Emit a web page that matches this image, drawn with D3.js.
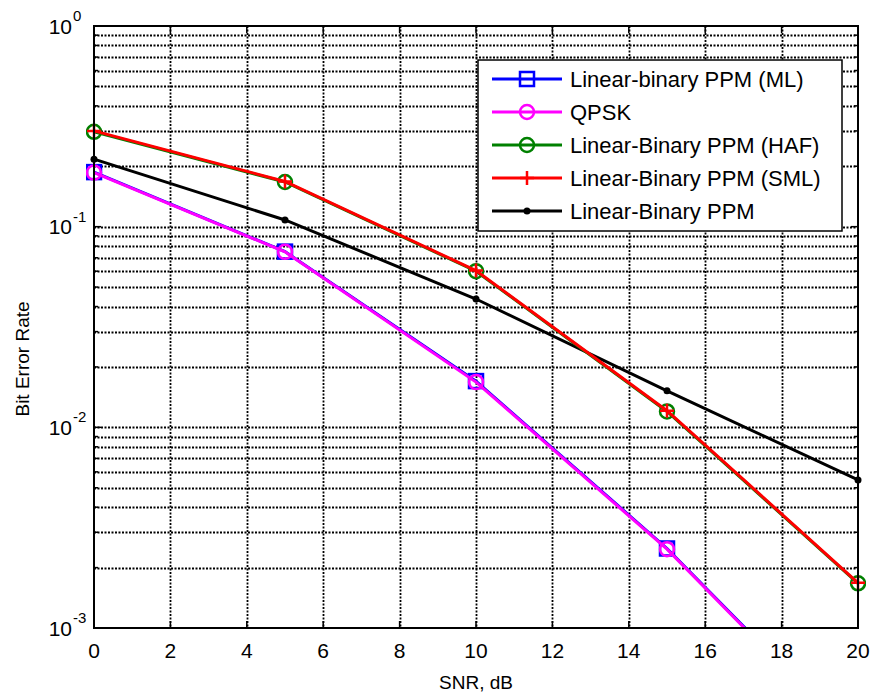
<!DOCTYPE html>
<html>
<head>
<meta charset="utf-8">
<script src="https://cdn.jsdelivr.net/npm/d3@7"></script>
<style>
  body { margin: 0; background: #fff; }
  text { font-family: "Liberation Sans", Arial, sans-serif; fill: #000; }
</style>
</head>
<body>
<div id="chart"></div>
<script>
// SNR points (dB)
const snr = [0, 5, 10, 15, 20];

// BER values
const berML = [0.187, 0.0751, 0.0170, 0.00249, 0.000268];
const berQPSK = [0.186, 0.0749, 0.0168, 0.00247, 0.000265];
const berHAF = [0.297, 0.167, 0.0600, 0.0120, 0.00167];
const berSML = [0.300, 0.168, 0.0604, 0.0121, 0.00168];
const berLB = [0.217, 0.108, 0.0436, 0.0152, 0.00547];

const seriesNames = [
  "Linear-binary PPM (ML)",
  "QPSK",
  "Linear-Binary PPM (HAF)",
  "Linear-Binary PPM (SML)",
  "Linear-Binary PPM"
];
const seriesColors = ["#0000ff", "#ff00ff", "#008000", "#ff0000", "#000000"];
const seriesMarkers = ["square", "circle", "circle", "plus", "dot"];
const seriesValues = [berML, berQPSK, berHAF, berSML, berLB];

const xTicks = [0, 2, 4, 6, 8, 10, 12, 14, 16, 18, 20];
const yDecades = [-3, -2, -1, 0];

const width = 874;
const height = 692;
const margin = { top: 26, right: 16, bottom: 64, left: 94 };
const plotW = width - margin.left - margin.right;
const plotH = height - margin.top - margin.bottom;

const svg = d3
  .select("#chart")
  .append("svg")
  .attr("width", width)
  .attr("height", height);

const g = svg
  .append("g")
  .attr("transform", `translate(${margin.left},${margin.top})`);

const x = d3.scaleLinear().domain([0, 20]).range([0, plotW]);
const y = d3.scaleLog().domain([1e-3, 1]).range([plotH, 0]);

// minor log ticks 2..9 per decade
const yMinor = [];
yDecades.slice(0, -1).forEach((d) => {
  for (let k = 2; k <= 9; k++) yMinor.push(k * Math.pow(10, d));
});
const yMajor = yDecades.map((d) => Math.pow(10, d));

// dotted grid
const grid = g.append("g").attr("class", "grid");
grid
  .selectAll("line.gx")
  .data(xTicks.slice(1, -1))
  .enter()
  .append("line")
  .attr("x1", (d) => Math.round(x(d)) + 0.5)
  .attr("x2", (d) => Math.round(x(d)) + 0.5)
  .attr("y1", 0)
  .attr("y2", plotH);
grid
  .selectAll("line.gy")
  .data(yMinor.concat(yMajor.slice(1, -1)))
  .enter()
  .append("line")
  .attr("x1", 0)
  .attr("x2", plotW)
  .attr("y1", (d) => Math.round(y(d)) + 0.5)
  .attr("y2", (d) => Math.round(y(d)) + 0.5);
grid
  .selectAll("line")
  .attr("stroke", "#000")
  .attr("stroke-width", 1.8)
  .attr("stroke-dasharray", "2,1.5");

// ticks on all four sides, pointing inward
const ticks = g.append("g").attr("class", "ticks").attr("stroke", "#000").attr("stroke-width", 1.5);
xTicks.forEach((t) => {
  ticks.append("line").attr("x1", x(t)).attr("x2", x(t)).attr("y1", plotH).attr("y2", plotH - 7);
  ticks.append("line").attr("x1", x(t)).attr("x2", x(t)).attr("y1", 0).attr("y2", 7);
});
yMajor.forEach((t) => {
  ticks.append("line").attr("x1", 0).attr("x2", 7).attr("y1", y(t)).attr("y2", y(t));
  ticks.append("line").attr("x1", plotW).attr("x2", plotW - 7).attr("y1", y(t)).attr("y2", y(t));
});
yMinor.forEach((t) => {
  ticks.append("line").attr("x1", 0).attr("x2", 4).attr("y1", y(t)).attr("y2", y(t));
  ticks.append("line").attr("x1", plotW).attr("x2", plotW - 4).attr("y1", y(t)).attr("y2", y(t));
});

// clip the data to the axes
svg
  .append("defs")
  .append("clipPath")
  .attr("id", "plot-clip")
  .append("rect")
  .attr("x", -8)
  .attr("y", -8)
  .attr("width", plotW + 16)
  .attr("height", plotH + 8);

const line = d3
  .line()
  .x((d) => x(d[0]))
  .y((d) => y(d[1]));

const drawMarker = (sel, type, color) => {
  if (type === "square") {
    sel.append("rect").attr("x", -7).attr("y", -7).attr("width", 14).attr("height", 14)
      .attr("fill", "none").attr("stroke", color).attr("stroke-width", 2.5);
  } else if (type === "circle") {
    sel.append("circle").attr("r", 7).attr("fill", "none").attr("stroke", color).attr("stroke-width", 2.5);
  } else if (type === "plus") {
    sel.append("path").attr("d", "M-7,0H7M0,-7V7").attr("stroke", color).attr("stroke-width", 2.5);
  } else {
    sel.append("circle").attr("r", 3.5).attr("fill", color);
  }
};

const data = g.append("g").attr("clip-path", "url(#plot-clip)");
const drawOrder = [0, 1, 4, 2, 3];
drawOrder.forEach((i) => {
  const pts = snr.map((s, j) => [s, seriesValues[i][j]]);
  data
    .append("path")
    .datum(pts)
    .attr("fill", "none")
    .attr("stroke", seriesColors[i])
    .attr("stroke-width", 3)
    .attr("d", line);
  data
    .selectAll(null)
    .data(pts.filter((p) => p[1] >= 1e-3))
    .enter()
    .append("g")
    .attr("transform", (d) => `translate(${x(d[0])},${y(d[1])})`)
    .each(function () {
      drawMarker(d3.select(this), seriesMarkers[i], seriesColors[i]);
    });
});

// axes box
g.append("rect")
  .attr("width", plotW)
  .attr("height", plotH)
  .attr("fill", "none")
  .attr("stroke", "#000")
  .attr("stroke-width", 2);

// tick labels
g.selectAll("text.xt")
  .data(xTicks)
  .enter()
  .append("text")
  .attr("x", (d) => x(d))
  .attr("y", plotH + 30)
  .attr("text-anchor", "middle")
  .style("font-size", "21px")
  .text((d) => d);

yDecades.forEach((d) => {
  const yy = y(Math.pow(10, d));
  g.append("text")
    .attr("x", -22)
    .attr("y", yy + 7.5)
    .attr("text-anchor", "end")
    .style("font-size", "21px")
    .text("10");
  g.append("text")
    .attr("x", -21)
    .attr("y", yy - 5)
    .attr("text-anchor", "start")
    .style("font-size", "15px")
    .text(d);
});

// axis titles
svg
  .append("text")
  .attr("x", margin.left + plotW / 2)
  .attr("y", 689)
  .attr("text-anchor", "middle")
  .style("font-size", "19px")
  .text("SNR, dB");

svg
  .append("text")
  .attr("transform", `translate(29,${margin.top + plotH / 2 + 32}) rotate(-90)`)
  .attr("text-anchor", "middle")
  .style("font-size", "19px")
  .text("Bit Error Rate");

// legend
const legend = svg.append("g").attr("transform", "translate(478,60)");
legend
  .append("rect")
  .attr("width", 364)
  .attr("height", 171)
  .attr("fill", "#fff")
  .attr("stroke", "#000")
  .attr("stroke-width", 1.5);

seriesNames.forEach((name, i) => {
  const row = legend.append("g").attr("transform", `translate(0,${19 + i * 33})`);
  row
    .append("line")
    .attr("x1", 14)
    .attr("x2", 84)
    .attr("stroke", seriesColors[i])
    .attr("stroke-width", 3);
  const m = row.append("g").attr("transform", "translate(49,0)");
  drawMarker(m, seriesMarkers[i], seriesColors[i]);
  row
    .append("text")
    .attr("x", 92)
    .attr("y", 8)
    .style("font-size", "22px")
    .text(name);
});
</script>
</body>
</html>
